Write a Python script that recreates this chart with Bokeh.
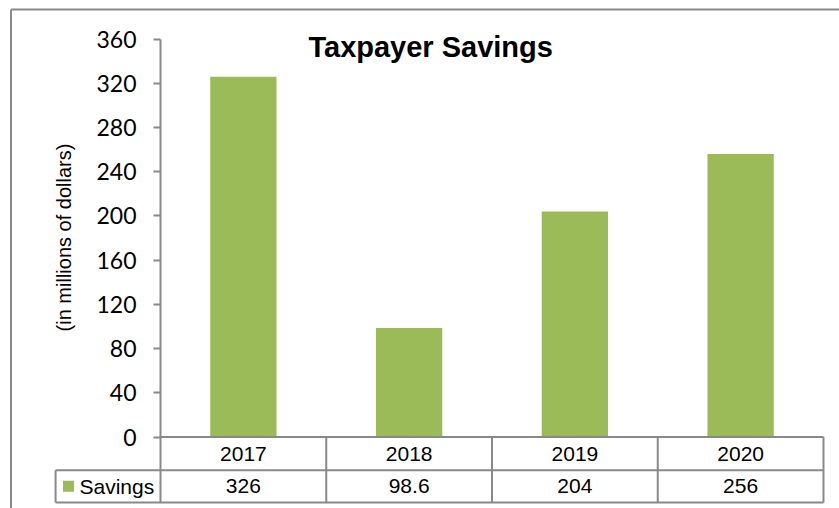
import math
from bokeh.plotting import figure
from bokeh.models import Range1d, LinearAxis, FixedTicker, Label
from bokeh.embed import file_html
from bokeh.resources import INLINE
from bokeh.core.properties import value

# ---- data ----
title = "Taxpayer Savings"
y_label = "(in millions of dollars)"
series_name = "Savings"
years = ["2017", "2018", "2019", "2020"]
savings = [326, 98.6, 204, 256]
value_labels = ["326", "98.6", "204", "256"]
y_ticks = [0, 40, 80, 120, 160, 200, 240, 280, 320, 360]

# ---- layout constants ----
W, H = 839, 508
X0, X1 = -0.9653, 4.0965
Y0, Y1 = -64.7, 395.0
PX_X = W / (X1 - X0)
PX_Y = H / (Y1 - Y0)
ROW1, ROW2 = -30.0, -59.3
LEG_X = -0.633
GRAY = "#898989"
GREEN = "#9BBB59"
N = len(years)
xs = [i + 0.5 for i in range(N)]

p = figure(width=W, height=H, x_range=Range1d(X0, X1), y_range=Range1d(Y0, Y1),
           x_axis_type=None, y_axis_type=None, output_backend="svg",
           toolbar_location=None, min_border=0)
p.outline_line_color = None
p.background_fill_color = "white"
p.border_fill_color = "white"

yax = LinearAxis(fixed_location=0, bounds=(0, 360), ticker=FixedTicker(ticks=y_ticks))
yax.minor_tick_line_color = None
yax.major_tick_in = 0
yax.major_tick_out = 7
yax.axis_line_color = GRAY
yax.axis_line_width = 2
yax.major_tick_line_color = GRAY
yax.major_tick_line_width = 2
yax.major_label_text_font = "Lato"
yax.major_label_text_font_size = "23px"
yax.major_label_text_color = "black"
yax.major_label_standoff = 17
p.add_layout(yax, "left")

# bars
p.vbar(x=xs, top=savings, bottom=0, width=0.4, fill_color=GREEN, line_color=None)

# data table grid
hx0 = [0, LEG_X, LEG_X]
hx1 = [N, N, N]
hy = [0, ROW1, ROW2]
p.segment(x0=hx0, y0=hy, x1=hx1, y1=hy, line_color=GRAY, line_width=2)
vx = list(range(N + 1)) + [LEG_X]
vy0 = [0] * (N + 1) + [ROW1]
vy1 = [ROW2] * (N + 2)
p.segment(x0=vx, y0=vy0, x1=vx, y1=vy1, line_color=GRAY, line_width=2)

# outer chart border (left and top)
bx = X0 + 10.5 / PX_X
by = Y1 - 9.0 / PX_Y
p.segment(x0=[bx, bx], y0=[Y0, by], x1=[bx, X1], y1=[by, by], line_color=GRAY, line_width=2)

# table texts
p.text(x=xs, y=[ROW1 / 2] * N, text=years, text_align="center", text_baseline="middle",
       text_font=value("Liberation Sans"), text_font_size="21px", text_color="black")
p.text(x=xs, y=[(ROW1 + ROW2) / 2] * N, text=value_labels, text_align="center",
       text_baseline="middle", text_font=value("Liberation Sans"), text_font_size="21px",
       text_color="black")
p.scatter(x=[LEG_X + 0.078], y=[(ROW1 + ROW2) / 2], marker="square", size=11,
          fill_color=GREEN, line_color=None)
p.text(x=[LEG_X + 0.144], y=[(ROW1 + ROW2) / 2], text=[series_name], text_align="left",
       text_baseline="middle", text_font=value("Liberation Sans"), text_font_size="21px",
       text_color="black")

# title and axis label
p.add_layout(Label(x=1.63, y=352.5, text=title, text_align="center", text_baseline="middle",
                   text_font="Liberation Sans", text_font_size="29px",
                   text_font_style="bold", text_color="black"))
p.add_layout(Label(x=-0.585, y=180.5, text=y_label, angle=math.pi / 2, text_align="center",
                   text_baseline="middle", text_font="Liberation Sans",
                   text_font_size="20px", text_color="black"))

open("out.html", "w").write(file_html(p, INLINE))
